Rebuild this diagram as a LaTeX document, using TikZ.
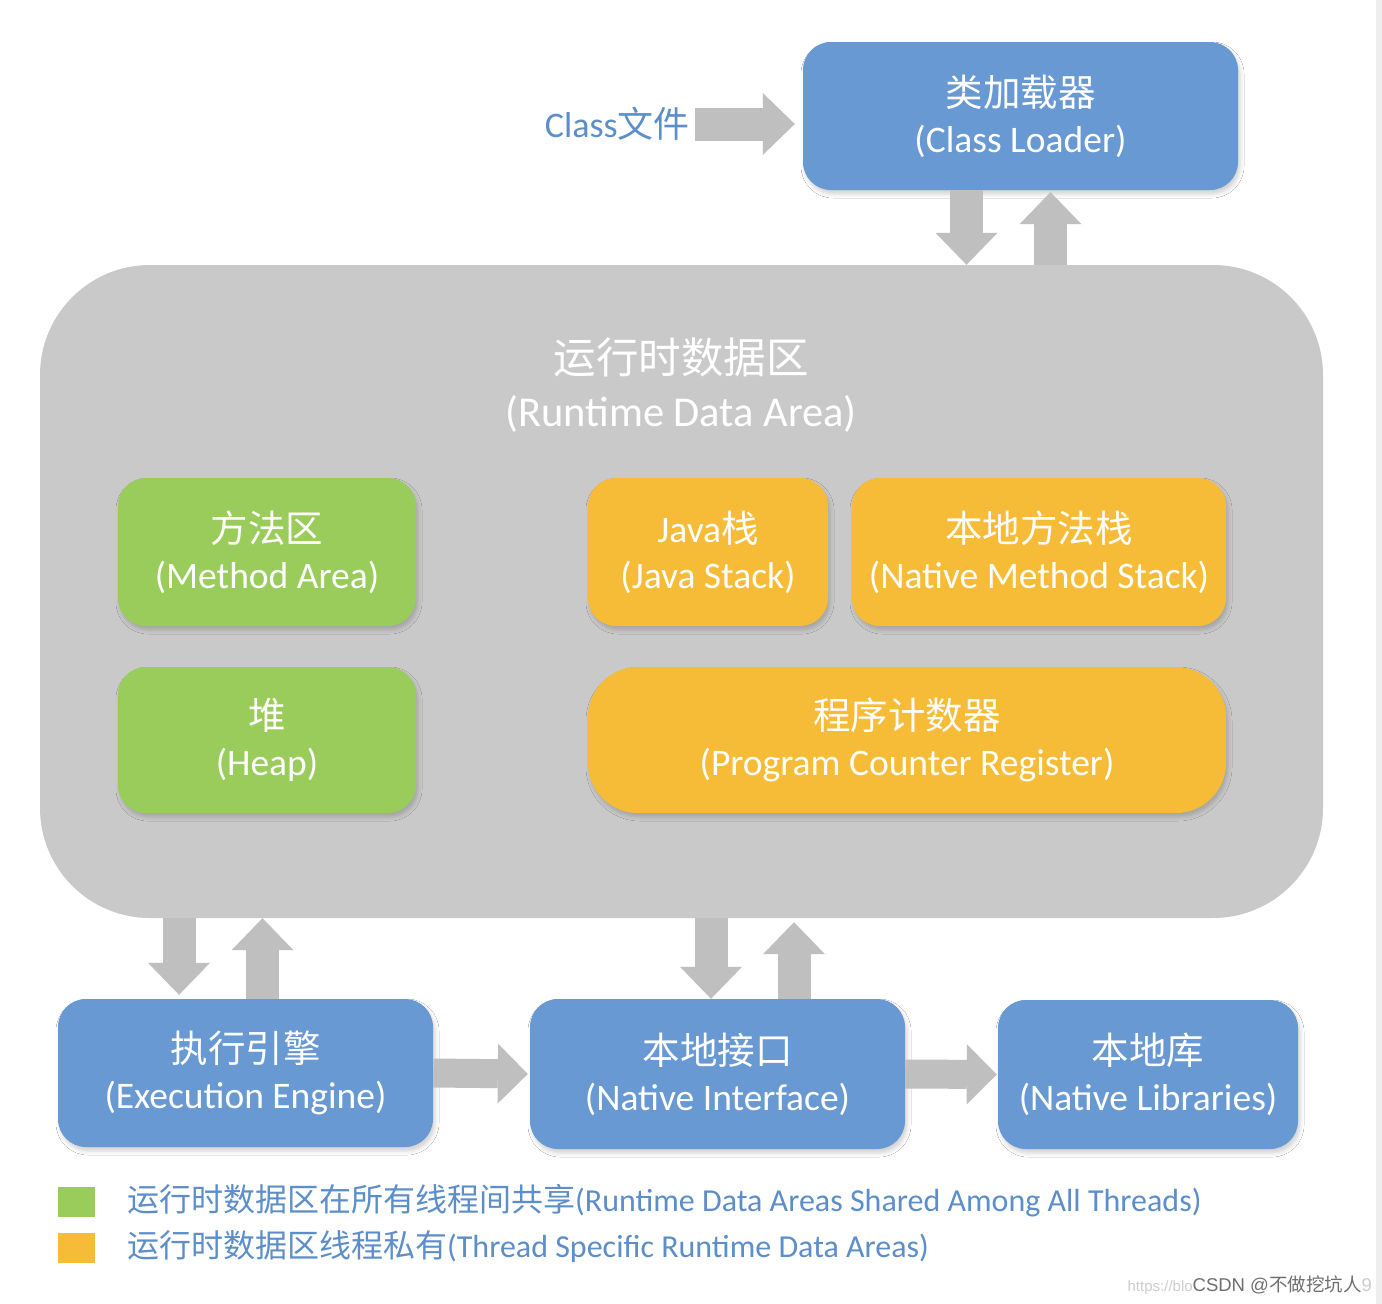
\documentclass[tikz,border=0pt]{standalone}
\usepackage{fontspec}
\setmainfont{Carlito}
\newfontfamily\cjk{Noto Sans CJK SC}
\newfontfamily\wmfont{Liberation Sans}
\usetikzlibrary{arrows.meta,shadows.blur}
\definecolor{boxblue}{RGB}{104,153,211}
\definecolor{boxgreen}{RGB}{154,204,92}
\definecolor{boxorange}{RGB}{246,188,56}
\definecolor{rdagray}{RGB}{201,201,201}
\definecolor{arrgray}{RGB}{191,191,191}
\definecolor{txtblue}{RGB}{92,142,201}
\definecolor{wmlight}{RGB}{205,205,205}
\definecolor{wmdark}{RGB}{110,110,110}
\begin{document}
\begin{tikzpicture}[x=1pt,y=-1pt,
  box/.style={rectangle, rounded corners=28pt, text=white, align=center, inner sep=0pt,
    font=\fontsize{37.5}{46}\selectfont,
    blur shadow={shadow xshift=2pt, shadow yshift=-4pt, shadow blur radius=4pt, shadow opacity=18}},
  bluebox/.style={box, fill=boxblue},
  greenbox/.style={box, fill=boxgreen},
  orangebox/.style={box, fill=boxorange},
  vblk/.style={draw=arrgray, line width=33pt, -{Triangle[width=62pt,length=32pt,line width=0pt]}},
  hblk/.style={draw=arrgray, line width=29pt, -{Triangle[width=60pt,length=30pt,line width=0pt]}},
  legsq/.style={rectangle, inner sep=0pt, minimum width=37pt, minimum height=30pt},
  legtxt/.style={anchor=west, inner sep=0pt, text=txtblue, font=\fontsize{32}{38}\selectfont},
]
\useasboundingbox (0,0) rectangle (1382,1304);
\fill[white] (0,0) rectangle (1382,1304);
\fill[gray!13] (1376,0) rectangle (1382,1304);

% runtime data area
\node[rectangle, rounded corners=110pt, fill=rdagray, minimum width=1283pt, minimum height=653pt, inner sep=0pt] (rda) at (681.5,591.5) {};
\node[align=center, text=white, inner sep=0pt, font=\fontsize{42.5}{53}\selectfont] (rdat) at (681,385) {{\cjk 运行时数据区}\\(Runtime Data Area)};

% class loader
\node[bluebox, minimum width=435pt, minimum height=148pt] (cl) at (1020.5,116) {{\cjk 类加载器}\\(Class Loader)};
\node[anchor=east, inner sep=0pt, text=txtblue, font=\fontsize{36}{44}\selectfont] (cf) at (690,124) {Class{\cjk 文件}};

% inner areas
\node[greenbox, minimum width=298pt, minimum height=148pt] (ma) at (267,552) {{\cjk 方法区}\\(Method Area)};
\node[greenbox, minimum width=298pt, minimum height=146pt] (heap) at (267,740) {{\cjk 堆}\\(Heap)};
\node[orangebox, minimum width=240pt, minimum height=148pt] (js) at (708,552) {Java{\cjk 栈}\\(Java Stack)};
\node[orangebox, minimum width=374pt, minimum height=148pt] (nms) at (1039,552) {{\cjk 本地方法栈}\\(Native Method Stack)};
\node[orangebox, rounded corners=50pt, minimum width=638pt, minimum height=146pt] (pc) at (907,740) {{\cjk 程序计数器}\\(Program Counter Register)};

% bottom row
\node[bluebox, minimum width=375pt, minimum height=148pt] (ee) at (245.5,1073) {{\cjk 执行引擎}\\(Execution Engine)};
\node[bluebox, minimum width=375pt, minimum height=150pt] (ni) at (717.5,1074) {{\cjk 本地接口}\\(Native Interface)};
\node[bluebox, minimum width=300pt, minimum height=149pt] (nl) at (1148,1074.5) {{\cjk 本地库}\\(Native Libraries)};

% anchor points for block arrows
\coordinate (cld) at ([xshift=-54pt]cl.south);
\coordinate (clu) at ([xshift=30pt]cl.south);
\coordinate (eed) at ([xshift=-66.5pt]ee.north);
\coordinate (eeu) at ([xshift=17pt]ee.north);
\coordinate (nid) at ([xshift=-6.5pt]ni.north);
\coordinate (niu) at ([xshift=76.5pt]ni.north);
\coordinate (cltip) at ([xshift=-8pt]cl.west |- cf.east);

% block arrows
\draw[vblk] (cld) -- (cld |- rda.north);
\draw[vblk] (clu |- rda.north) -- ([yshift=-2pt]clu);
\draw[vblk] (eed |- rda.south) -- ([yshift=4pt]eed);
\draw[vblk] (eeu) -- (eeu |- rda.south);
\draw[vblk] (nid |- rda.south) -- (nid);
\draw[vblk] (niu) -- ([yshift=-4pt]niu |- rda.south);
\draw[hblk] (ee.east) -- ([xshift=-2pt]ni.west);
\draw[hblk] (ni.east) -- ([xshift=-1pt]nl.west);
\draw[vblk] ([xshift=5pt]cf.east) -- (cltip);

% legend
\node[legsq, fill=boxgreen] (lg1) at (76.5,1202) {};
\node[legsq, fill=boxorange] (lg2) at (76.5,1248) {};
\node[legtxt] (lt1) at (127,1201) {{\cjk 运行时数据区在所有线程间共享}(Runtime Data Areas Shared Among All Threads)};
\node[legtxt] (lt2) at (127,1247) {{\cjk 运行时数据区线程私有}(Thread Specific Runtime Data Areas)};

% watermark
\node[anchor=east, inner sep=0pt, font=\wmfont\fontsize{18.5}{24}\selectfont] (wm) at (1372,1285)
  {\textcolor{wmlight}{\fontsize{15}{20}\selectfont https://blo}\textcolor{wmdark}{CSDN @{\cjk 不做挖坑人}}\textcolor{wmlight}{9}};
\end{tikzpicture}
\end{document}
